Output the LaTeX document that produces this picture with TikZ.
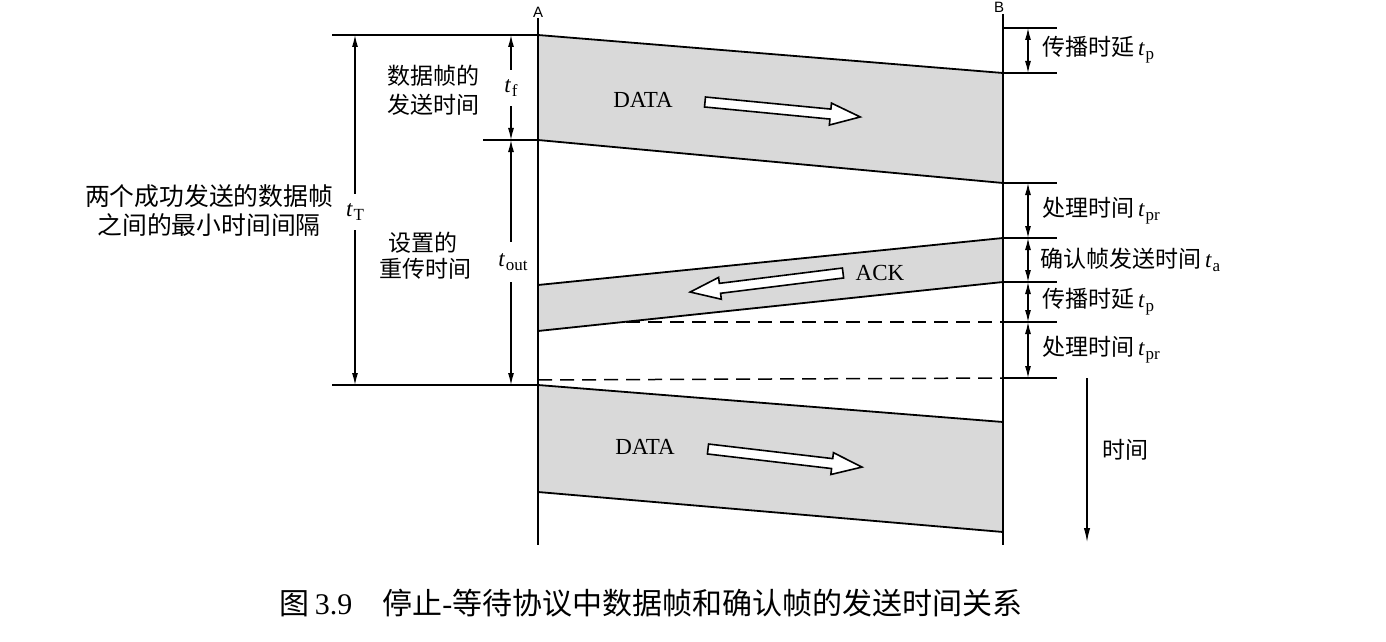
\documentclass[tikz,border=0pt]{standalone}
\usepackage{fontspec}
\setmainfont{Liberation Serif}
\setsansfont{Liberation Sans}
\newfontfamily\cjk{Noto Sans CJK SC}
\usetikzlibrary{arrows.meta}
\newcommand\tv[1]{\textit{t}\kern0.3pt\raisebox{-0.35ex}{\fontsize{8.5}{9}\selectfont #1}}
\newcommand\harrow[4]{%
  \begin{scope}[shift={(#1,#2)},rotate=#3]
    \draw[line width=0.8pt,fill=white,line join=miter] (0,-5) -- (#4-30,-5) -- (#4-30,-11) -- (#4,0) -- (#4-30,11) -- (#4-30,5) -- (0,5) -- cycle;
  \end{scope}}
\begin{document}
\begin{tikzpicture}[x=0.5pt,y=-0.5pt,
  ln/.style={line width=0.75pt},
  edge/.style={line width=0.9pt},
  band/.style={fill=gray!30},
  dim/.style={line width=0.6pt,{Latex[length=6pt,width=3pt]}-{Latex[length=6pt,width=3pt]}},
  dimtxt/.style={font=\fontsize{11.5}{14}\selectfont,inner sep=1pt},
  lbl/.style={font=\fontsize{11.5}{14}\selectfont\cjk,inner sep=0pt},
  rlbl/.style={font=\fontsize{11.5}{14}\selectfont,anchor=west,inner sep=0pt}]
\useasboundingbox (0,0) rectangle (1386,642);
% coordinates
\coordinate (Atop) at (538,18);
\coordinate (Abot) at (538,545);
\coordinate (Btop) at (1003,14);
\coordinate (Bbot) at (1003,545);
% dashed lines (under bands)
\draw[ln,dashed,dash pattern=on 7pt off 4pt] (538,322) -- (1003,322);
\draw[ln,dashed,dash pattern=on 7pt off 4pt] (538,380) -- (1003,378);
% DATA band 1
\coordinate (d1a) at (538,35); \coordinate (d1b) at (1003,73);
\coordinate (d1c) at (1003,183); \coordinate (d1d) at (538,140);
\fill[band] (d1a) -- (d1b) -- (d1c) -- (d1d) -- cycle;
\draw[edge] (d1a) -- (d1b); \draw[edge] (d1d) -- (d1c);
% ACK band
\coordinate (k1a) at (538,285); \coordinate (k1b) at (1003,238);
\coordinate (k1c) at (1003,282); \coordinate (k1d) at (538,331);
\fill[band] (k1a) -- (k1b) -- (k1c) -- (k1d) -- cycle;
\draw[edge] (k1a) -- (k1b); \draw[edge] (k1d) -- (k1c);
% DATA band 2
\coordinate (d2a) at (538,385); \coordinate (d2b) at (1003,422);
\coordinate (d2c) at (1003,532); \coordinate (d2d) at (538,492);
\fill[band] (d2a) -- (d2b) -- (d2c) -- (d2d) -- cycle;
\draw[edge] (d2a) -- (d2b); \draw[edge] (d2d) -- (d2c);
% A and B lines
\draw[ln] (Atop) -- (Abot);
\draw[ln] (Btop) -- (Bbot);
\node[font=\sffamily\fontsize{7.5}{8}\selectfont,inner sep=0pt] (Alab) at (538,12) {A};
\node[font=\sffamily\fontsize{7.5}{8}\selectfont,inner sep=0pt] (Blab) at (999,7) {B};
% left horizontal lines
\coordinate (L1) at (332,35); \coordinate (L2) at (483,140); \coordinate (L3) at (332,385);
\draw[ln] (L1) -- (d1a);
\draw[ln] (L2) -- (d1d);
\draw[ln] (L3) -- (d2a);
% right ticks
\foreach \yy/\nm in {28/r0,73/r1,183/r2,238/r3,282/r4,322/r5,378/r6}{
  \coordinate (\nm) at (1028,\yy);
  \draw[ln] (1003,\yy) -- (1057,\yy);
}
% dimension arrows on the right
\draw[dim] (r0) -- (r1);
\draw[dim] (r2) -- (r3);
\draw[dim] (r3) -- (r4);
\draw[dim] (r4) -- (r5);
\draw[dim] (r5) -- (r6);
\node[rlbl] (lp1) at (1042,50) {{\cjk 传播时延}\,\tv{p}};
\node[rlbl] (lpr1) at (1042,211) {{\cjk 处理时间}\,\tv{pr}};
\node[rlbl] (la) at (1040,260) {{\cjk 确认帧发送时间}\,\tv{a}};
\node[rlbl] (lp2) at (1042,302) {{\cjk 传播时延}\,\tv{p}};
\node[rlbl] (lpr2) at (1042,350) {{\cjk 处理时间}\,\tv{pr}};
% time arrow
\coordinate (T0) at (1087,378); \coordinate (T1) at (1087,542);
\draw[line width=0.6pt,-{Latex[length=7pt,width=3.2pt]}] (T0) -- (T1);
\node[lbl] (time) at (1125,450) {时间};
% left dimension arrows
\coordinate (tT0) at (355,35); \coordinate (tT1) at (355,385);
\draw[dim] (tT0) -- (tT1);
\node[dimtxt,fill=white,inner ysep=5pt] (tT) at (355,212) {\tv{T}};
\coordinate (tf0) at (511,35); \coordinate (tf1) at (511,140);
\draw[dim] (tf0) -- (tf1);
\node[dimtxt,fill=white,inner ysep=5pt] (tf) at (511,88) {\tv{f}};
\coordinate (to0) at (511,140); \coordinate (to1) at (511,385);
\draw[dim] (to0) -- (to1);
\node[dimtxt,fill=white,inner ysep=6pt] (tout) at (513,262) {\tv{out}};
% left texts
\node[lbl] (s1) at (433,76) {数据帧的};
\node[lbl] (s2) at (433,105) {发送时间};
\node[lbl] (s3) at (423,243) {设置的};
\node[lbl] (s4) at (425,269) {重传时间};
\node[lbl,font=\fontsize{12.4}{14}\selectfont\cjk] (s5) at (209,196) {两个成功发送的数据帧};
\node[lbl,font=\fontsize{12.4}{14}\selectfont\cjk] (s6) at (209,225) {之间的最小时间间隔};
% DATA / ACK labels and hollow arrows
\node[font=\fontsize{11.5}{14}\selectfont,inner sep=0pt] (D1) at (643,100) {DATA};
\harrow{705}{102}{-5.5}{156}
\node[font=\fontsize{11.5}{14}\selectfont,inner sep=0pt] (D2) at (645,447) {DATA};
\harrow{708}{449}{-6.7}{155}
\node[font=\fontsize{11.5}{14}\selectfont,inner sep=0pt] (ACK) at (880,273) {ACK};
\harrow{843}{273}{187.1}{154}
% caption
\node[font=\fontsize{15}{17}\selectfont,inner sep=0pt] (cap) at (651,603) {{\cjk 图}\,3.9\quad{\cjk 停止}-{\cjk 等待协议中数据帧和确认帧的发送时间关系}};
\end{tikzpicture}
\end{document}
